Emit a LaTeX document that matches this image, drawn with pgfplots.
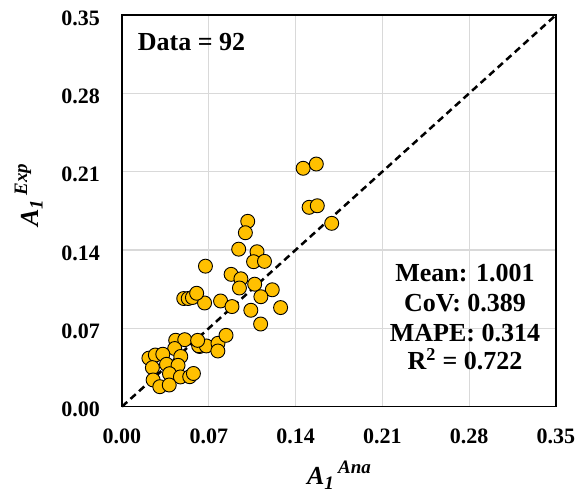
\documentclass[border=0pt]{standalone}
\usepackage{fontspec}
\setmainfont{Liberation Serif}
\usepackage{pgfplots}
\pgfplotsset{compat=1.18}
\usetikzlibrary{calc}
\definecolor{gold}{HTML}{FFC000}
\definecolor{gridgray}{HTML}{D9D9D9}
\begin{document}
\begin{tikzpicture}
\begin{axis}[
  scale only axis,
  width=434pt, height=391.6pt,
  xmin=0, xmax=0.35, ymin=0, ymax=0.35,
  xtick={0,0.07,0.14,0.21,0.28,0.35},
  ytick={0,0.07,0.14,0.21,0.28,0.35},
  grid=major,
  major grid style={gridgray, line width=1.2pt},
  axis line style={black, line width=1.3pt},
  major tick length=0pt,
  /pgf/number format/assume math mode=true,
  /pgf/number format/.cd, fixed, fixed zerofill, precision=2, /pgfplots/.cd,
  tick label style={font=\fontsize{22}{22}\selectfont\bfseries, inner sep=0pt},
  xticklabel style={anchor=north, yshift=-22pt},
  yticklabel style={anchor=east, xshift=-22pt, yshift=-3pt},
  xlabel={\bfseries\itshape\fontsize{26}{26}\selectfont A\raisebox{-4.5pt}{\fontsize{19}{19}\selectfont 1}\,\raisebox{11pt}{\fontsize{19}{19}\selectfont Ana}},
  xlabel style={at={(axis description cs:0.5,-0.2002)}, anchor=base, inner sep=0pt},
  clip=false,
]
\addplot[black, line width=2.5pt, dash pattern=on 7pt off 4.5pt] coordinates {(0,0) (0.35,0.35)};
\addplot[only marks, mark=*, mark size=7pt, mark options={fill=gold, draw=black, line width=0.9pt}] table {
x y
0.1461 0.2130
0.1567 0.2168
0.1509 0.1781
0.1575 0.1795
0.1691 0.1638
0.1014 0.1656
0.0995 0.1554
0.0941 0.1407
0.1089 0.1384
0.1061 0.1295
0.1149 0.1298
0.0673 0.1255
0.0880 0.1182
0.0959 0.1142
0.0947 0.1060
0.1070 0.1094
0.1212 0.1044
0.1120 0.0982
0.1279 0.0885
0.1039 0.0861
0.1118 0.0738
0.0795 0.0944
0.0887 0.0894
0.0498 0.0966
0.0534 0.0966
0.0568 0.0975
0.0666 0.0926
0.0602 0.1013
0.0626 0.0537
0.0618 0.0544
0.0680 0.0542
0.0774 0.0566
0.0839 0.0637
0.0773 0.0497
0.0433 0.0593
0.0506 0.0598
0.0610 0.0592
0.0425 0.0519
0.0217 0.0433
0.0269 0.0461
0.0329 0.0468
0.0474 0.0448
0.0359 0.0378
0.0452 0.0369
0.0245 0.0348
0.0383 0.0294
0.0471 0.0265
0.0546 0.0267
0.0576 0.0296
0.0251 0.0238
0.0305 0.0178
0.0381 0.0193
};
\node[anchor=base, rotate=90, inner sep=0pt] at (axis description cs:-0.1935,0.5403) {\bfseries\itshape\fontsize{26}{26}\selectfont A\raisebox{-4.5pt}{\fontsize{19}{19}\selectfont 1}\,\raisebox{11pt}{\fontsize{19}{19}\selectfont Exp}};
\node[anchor=base west, inner sep=0pt, font=\fontsize{26}{26}\selectfont\bfseries] at (axis description cs:0.0362,0.9106) {Data = 92};
\node[anchor=base, inner sep=0pt, font=\fontsize{26}{26}\selectfont\bfseries] at (axis description cs:0.7903,0.3190) {Mean: 1.001};
\node[anchor=base, inner sep=0pt, font=\fontsize{26}{26}\selectfont\bfseries] at (axis description cs:0.7903,0.2441) {CoV: 0.389};
\node[anchor=base, inner sep=0pt, font=\fontsize{26}{26}\selectfont\bfseries] at (axis description cs:0.7903,0.1675) {MAPE: 0.314};
\node[anchor=base, inner sep=0pt, font=\fontsize{26}{26}\selectfont\bfseries] at (axis description cs:0.7903,0.0935) {R\textsuperscript{2} = 0.722};
\end{axis}
\pgfresetboundingbox
\path ($(current axis.south west)+(-122pt,-90.4pt)$) rectangle ($(current axis.north east)+(25pt,15pt)$);
\end{tikzpicture}
\end{document}
